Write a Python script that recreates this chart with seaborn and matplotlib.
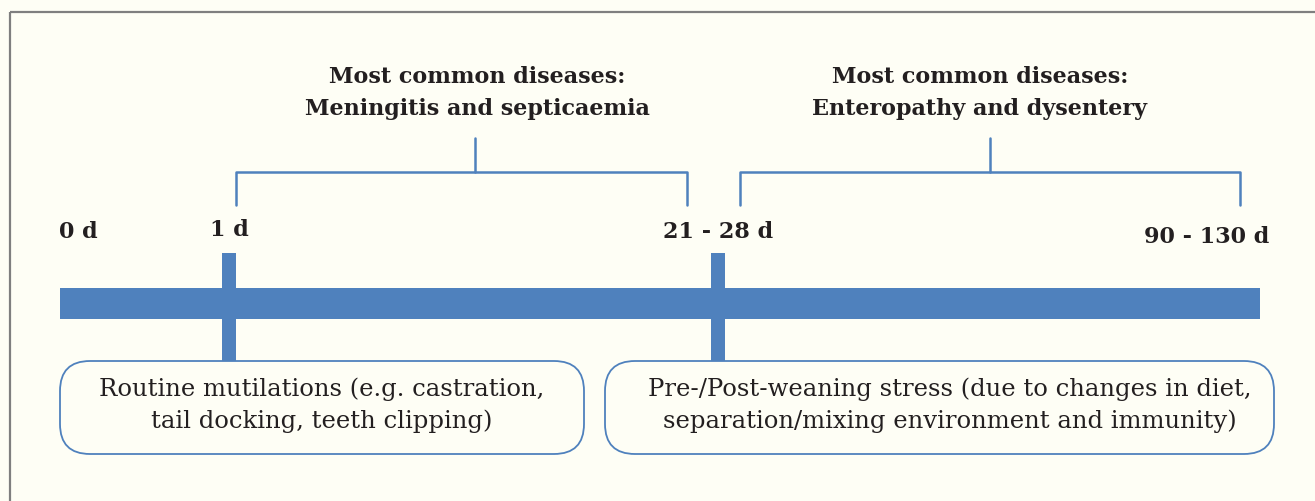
import numpy as np
import pandas as pd
import seaborn as sns
import matplotlib.pyplot as plt
from matplotlib.patches import Rectangle, FancyBboxPatch

# timeline milestones (label, position on the drawing scale)
milestone_labels = ['0 d', '1 d', '21 - 28 d', '90 - 130 d']
milestone_x = [78, 229, 718, 1207]
milestone_has_tick = [False, True, True, False]

# disease periods above the line
period_titles = ['Most common diseases:\nMeningitis and septicaemia',
                 'Most common diseases:\nEnteropathy and dysentery']
period_start = [236, 740]
period_end = [687, 1240]
period_stem = [475, 990]
period_title_x = [477, 980]

# stress events below the line
event_texts = ['Routine mutilations (e.g. castration,\ntail docking, teeth clipping)',
               'Pre-/Post-weaning stress (due to changes in diet,\nseparation/mixing environment and immunity)']
event_start = [60, 605]
event_end = [584, 1274]
event_text_x = [322, 950]

BLUE = '#4F81BD'
TXT = '#231F20'
BG = '#FEFEF5'

sns.set_theme(style='white')
plt.rcParams['font.family'] = ['DejaVu Serif']

fig = plt.figure(figsize=(13.15, 5.01), dpi=100, facecolor=BG)
ax = fig.add_axes([0, 0, 1, 1])
ax.set_facecolor(BG)
ax.set_xlim(0, 1315)
ax.set_ylim(501, 0)
ax.axis('off')

# outer frame (runs off the right and bottom)
ax.add_patch(Rectangle((10, 12), 1340, 520, fill=False, ec='#7F7F7F', lw=1.6))

# main bar
ax.add_patch(Rectangle((60, 288), 1200, 31, color=BLUE, lw=0))

# milestones
for lab, x, tick in zip(milestone_labels, milestone_x, milestone_has_tick):
    if tick:
        ax.add_patch(Rectangle((x - 7, 253), 14, 108, color=BLUE, lw=0))
base = {'0 d': 238, '1 d': 236, '21 - 28 d': 238, '90 - 130 d': 243}
for lab, x in zip(milestone_labels, milestone_x):
    ax.text(x, base[lab], lab, ha='center', va='baseline', fontsize=16,
            fontweight='bold', color=TXT)

# brackets for the disease periods
for title, x0, x1, stem, tx in zip(period_titles, period_start, period_end,
                                   period_stem, period_title_x):
    br = pd.DataFrame({'x': [x0, x0, x1, x1], 'y': [205, 172, 172, 205]})
    sns.lineplot(data=br, x='x', y='y', sort=False, estimator=None,
                 color=BLUE, lw=1.8, ax=ax)
    ax.plot([stem, stem], [138, 172], color=BLUE, lw=1.8)
    ax.text(tx, 115, title, ha='center', va='baseline', fontsize=16,
            fontweight='bold', color=TXT, linespacing=1.6)

# event boxes
for txt, x0, x1, tx in zip(event_texts, event_start, event_end, event_text_x):
    ax.add_patch(FancyBboxPatch((x0, 361), x1 - x0, 93,
                                boxstyle='round,pad=0,rounding_size=30',
                                fc=BG, ec=BLUE, lw=1.3))
    ax.text(tx, 428, txt, ha='center', va='baseline', fontsize=17.5,
            color=TXT, linespacing=1.45)

ax.set_xlabel('')
ax.set_ylabel('')
fig.savefig('out.png', dpi=100, facecolor=BG)
